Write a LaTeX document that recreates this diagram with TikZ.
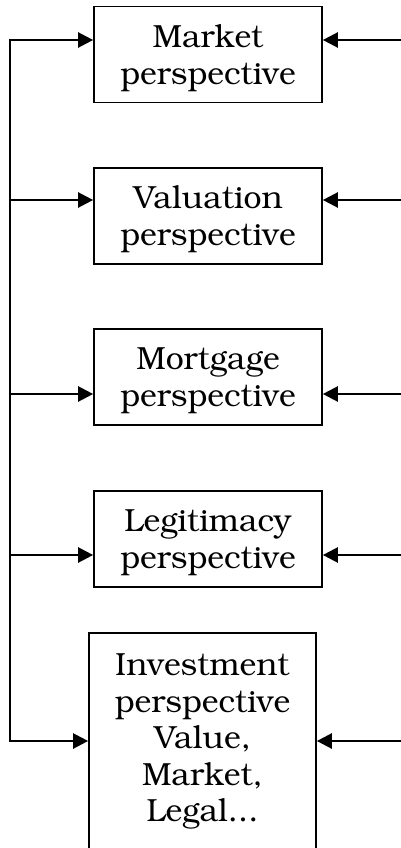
\documentclass[tikz,border=0pt]{standalone}
\usepackage[T1]{fontenc}
\usepackage{bookman}
\usetikzlibrary{arrows.meta}

\tikzset{
  perspbox/.style={draw, line width=1.7pt, inner sep=0pt,
    minimum width=228pt, minimum height=96pt},
  persptext/.style={inner sep=0pt, align=center, text width=220pt,
    font=\fontsize{32}{36.5}\selectfont},
  feed/.style={line width=2.4pt, -{Triangle[length=15pt,width=15pt]}},
  rail/.style={line width=2.4pt}
}

\begin{document}
\begin{tikzpicture}[x=1pt,y=-1pt]
  \useasboundingbox (0,0) rectangle (401,848);
  \clip (0,0) rectangle (401,848);

  % perspective boxes
  \node[perspbox] (b1) at (208,54.5) {};
  \node[perspbox] (b2) at (208,216) {};
  \node[perspbox] (b3) at (208,377) {};
  \node[perspbox] (b4) at (208,539) {};
  \node[perspbox, minimum height=217pt, minimum width=227pt] (b5) at (202.5,741.5) {};

  % their captions, set a little below the centre
  \node[persptext] (t1) at ([yshift=-4pt]b1.center) {Market\\perspective};
  \node[persptext] (t2) at ([yshift=-3.5pt]b2.center) {Valuation\\perspective};
  \node[persptext] (t3) at ([yshift=-3.5pt]b3.center) {Mortgage\\perspective};
  \node[persptext] (t4) at ([yshift=-3.5pt]b4.center) {Legitimacy\\perspective};
  \node[persptext] (t5) at (b5.center)
    {Investment\\perspective\\Value,\\Market,\\Legal...};

  % left-hand rail
  \coordinate (l1) at (10,40);
  \coordinate (l2) at (10,200);
  \coordinate (l3) at (10,394);
  \coordinate (l4) at (10,555);
  \coordinate (l5) at (10,741);
  \draw[rail] ([yshift=1.2pt]l1) -- ([yshift=-1.2pt]l5);

  % inputs from the right-hand edge
  \coordinate (r1) at (401,40);
  \coordinate (r2) at (401,200);
  \coordinate (r3) at (401,394);
  \coordinate (r4) at (401,555);
  \coordinate (r5) at (401,741);

  \foreach \i in {1,...,5} {
    \draw[feed] ([xshift=-1.2pt]l\i) -- (l\i -| b\i.west);
    \draw[feed] (r\i) -- (r\i -| b\i.east);
  }
\end{tikzpicture}
\end{document}
